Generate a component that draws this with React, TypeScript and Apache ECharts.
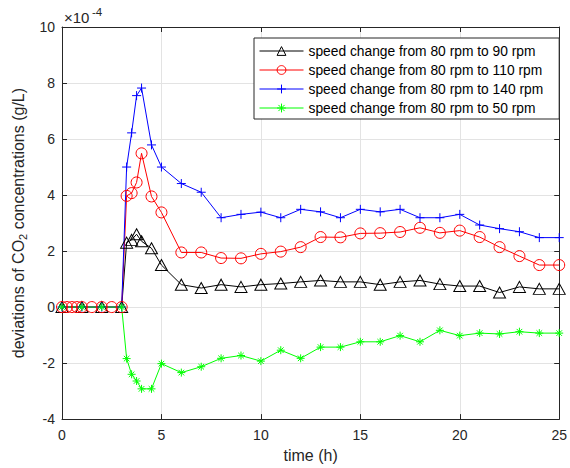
import React, { useEffect, useRef } from "react";
import * as echarts from "echarts";

// time points (h)
const timeCommon = [0, 1, 2, 3, 3.25, 3.5, 3.75, 4, 4.5, 5, 6, 7, 8, 9, 10, 11, 12, 13, 14, 15, 16, 17, 18, 19, 20, 21, 22, 23, 24, 25];
const timeRed = [0, 0.25, 0.5, 0.75, 1, 1.5, 2, 2.5, 3, 3.25, 3.5, 3.75, 4, 4.5, 5, 6, 7, 8, 9, 10, 11, 12, 13, 14, 15, 16, 17, 18, 19, 20, 21, 22, 23, 24, 25];

// deviations (×10^-4 g/L)
const speed90 = [0, 0, 0, 0, 2.3, 2.4, 2.6, 2.35, 2.1, 1.5, 0.8, 0.68, 0.8, 0.72, 0.8, 0.84, 0.9, 0.95, 0.9, 0.9, 0.8, 0.9, 0.95, 0.82, 0.75, 0.75, 0.52, 0.72, 0.65, 0.65];
const speed110 = [0, 0, 0, 0, 0, 0, 0, 0, 0, 3.97, 4.07, 4.45, 5.49, 3.95, 3.38, 1.95, 1.95, 1.75, 1.74, 1.9, 1.98, 2.14, 2.5, 2.49, 2.63, 2.64, 2.68, 2.83, 2.65, 2.73, 2.5, 2.14, 1.82, 1.5, 1.5];
const speed140 = [0, 0, 0, 0, 5.0, 6.22, 7.55, 7.82, 5.79, 5.0, 4.41, 4.1, 3.19, 3.31, 3.39, 3.19, 3.49, 3.4, 3.19, 3.49, 3.4, 3.49, 3.19, 3.19, 3.31, 2.93, 2.8, 2.69, 2.48, 2.48];
const speed50 = [0, 0, 0, 0, -1.84, -2.4, -2.64, -2.92, -2.92, -2.02, -2.34, -2.13, -1.83, -1.73, -1.93, -1.54, -1.83, -1.43, -1.43, -1.24, -1.24, -1.02, -1.24, -0.83, -1.02, -0.93, -0.96, -0.88, -0.93, -0.93];

const seriesNames = [
  "speed change from 80 rpm to 90 rpm",
  "speed change from 80 rpm to 110 rpm",
  "speed change from 80 rpm to 140 rpm",
  "speed change from 80 rpm to 50 rpm",
];

const FONT = "'Liberation Sans', Arial, Helvetica, sans-serif";
const AXIS_COLOR = "#262626";

const PLUS = "path://M0,5L10,5M5,0L5,10";
const STAR = "path://M0,5L10,5M5,0L5,10M1.5,1.5L8.5,8.5M1.5,8.5L8.5,1.5";

function pairs(xs: number[], ys: number[]) {
  return xs.map((x, i) => [x, ys[i]]);
}

export default function App() {
  const ref = useRef<HTMLDivElement>(null);

  useEffect(() => {
    if (!ref.current) return;
    const chart = echarts.init(ref.current, undefined, { renderer: "svg" });

    const mk = (name: string, data: number[][], color: string, symbol: string, size: any) => ({
      name,
      type: "line",
      data,
      xAxisIndex: 0,
      yAxisIndex: 0,
      symbol,
      symbolSize: size,
      symbolKeepAspect: true,
      showAllSymbol: true,
      lineStyle: { color, width: 1 },
      itemStyle: { color: "rgba(0,0,0,0)", borderColor: color, borderWidth: 1 },
      emphasis: { disabled: true },
    });

    const option: any = {
      animation: false,
      textStyle: { fontFamily: FONT },
      grid: { left: 62, top: 27, width: 500, height: 393 },
      xAxis: [
        {
          type: "value",
          min: 0,
          max: 25,
          interval: 5,
          name: "time (h)",
          nameLocation: "middle",
          nameGap: 22,
          nameTextStyle: { fontSize: 16, color: AXIS_COLOR, fontFamily: FONT },
          axisLine: { onZero: false, lineStyle: { color: AXIS_COLOR, width: 1 } },
          axisTick: { inside: true, length: 5, lineStyle: { color: AXIS_COLOR } },
          axisLabel: { fontSize: 14, color: AXIS_COLOR, margin: 9, fontFamily: FONT },
          splitLine: { show: true, lineStyle: { color: "#e3e3e3", width: 1 } },
        },
        {
          type: "value",
          position: "top",
          min: 0,
          max: 25,
          interval: 5,
          axisLine: { onZero: false, lineStyle: { color: AXIS_COLOR, width: 1 } },
          axisTick: { inside: true, length: 5, lineStyle: { color: AXIS_COLOR } },
          axisLabel: { show: false },
          splitLine: { show: false },
        },
      ],
      yAxis: [
        {
          type: "value",
          min: -4,
          max: 10,
          interval: 2,
          name: "{a|deviations of CO}{s|2}{a| concentrations (g/L)}",
          nameLocation: "middle",
          nameRotate: 90,
          nameGap: 34,
          nameTextStyle: {
            color: AXIS_COLOR,
            fontFamily: FONT,
            rich: {
              a: { fontSize: 16, color: AXIS_COLOR, fontFamily: FONT, lineHeight: 20, verticalAlign: "middle" },
              s: { fontSize: 11, color: AXIS_COLOR, fontFamily: FONT, lineHeight: 11, verticalAlign: "bottom" },
            },
          },
          axisLine: { onZero: false, lineStyle: { color: AXIS_COLOR, width: 1 } },
          axisTick: { inside: true, length: 5, lineStyle: { color: AXIS_COLOR } },
          axisLabel: { fontSize: 14, color: AXIS_COLOR, margin: 7, fontFamily: FONT },
          splitLine: { show: true, lineStyle: { color: "#e3e3e3", width: 1 } },
        },
        {
          type: "value",
          position: "right",
          min: -4,
          max: 10,
          interval: 2,
          axisLine: { onZero: false, lineStyle: { color: AXIS_COLOR, width: 1 } },
          axisTick: { inside: true, length: 5, lineStyle: { color: AXIS_COLOR } },
          axisLabel: { show: false },
          splitLine: { show: false },
        },
      ],
      legend: {
        left: 254,
        top: 38,
        orient: "vertical",
        backgroundColor: "#ffffff",
        borderColor: AXIS_COLOR,
        borderWidth: 1,
        borderRadius: 0,
        padding: [5, 16, 3, 5],
        itemWidth: 44,
        itemHeight: 11,
        itemGap: 3,
        selectedMode: false,
        data: seriesNames,
        lineStyle: { width: 1 },
        itemStyle: { borderWidth: 1 },
        textStyle: { fontSize: 13.8, color: "#000", fontFamily: FONT, lineHeight: 16 },
      },
      graphic: [
        {
          type: "text",
          left: 64,
          top: 10,
          style: { text: "×10", font: "15px 'Liberation Sans', Arial, sans-serif", fill: AXIS_COLOR },
        },
        {
          type: "text",
          left: 92,
          top: 6,
          style: { text: "-4", font: "11.5px 'Liberation Sans', Arial, sans-serif", fill: AXIS_COLOR },
        },
      ],
      series: [
        mk(seriesNames[0], pairs(timeCommon, speed90), "#000000", "triangle", [12, 11]),
        mk(seriesNames[1], pairs(timeRed, speed110), "#ff0000", "circle", 11),
        mk(seriesNames[2], pairs(timeCommon, speed140), "#0000ff", PLUS, 9),
        mk(seriesNames[3], pairs(timeCommon, speed50), "#00ff00", STAR, 8),
      ],
    };

    chart.setOption(option);
    return () => chart.dispose();
  }, []);

  return (
    <div
      ref={ref}
      style={{ position: "fixed", left: 0, top: 0, width: 570, height: 468, background: "#fff" }}
    />
  );
}
